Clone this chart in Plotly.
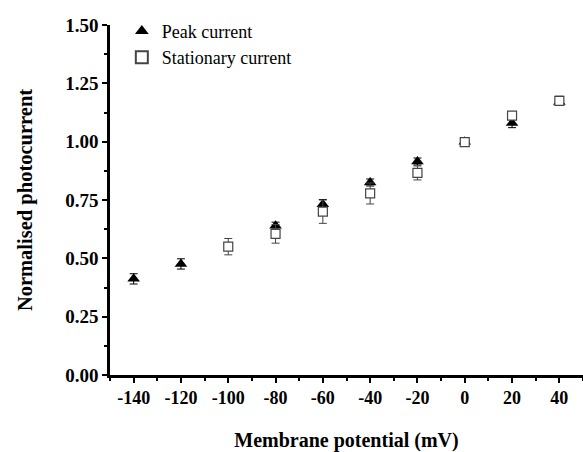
import plotly.graph_objects as go

# Data
peak_x = [-140, -120, -80, -60, -40, -20, 0, 20, 40]
peak_y = [0.412, 0.476, 0.640, 0.732, 0.825, 0.915, 1.000, 1.080, 1.170]
peak_err = [0.022, 0.022, 0.015, 0.020, 0.015, 0.015, 0.010, 0.020, 0.015]

stat_x = [-100, -80, -60, -40, -20, 0, 20, 40]
stat_y = [0.550, 0.605, 0.700, 0.778, 0.866, 0.998, 1.112, 1.175]
stat_err = [0.035, 0.040, 0.050, 0.045, 0.030, 0.010, 0.010, 0.020]

x_ticks = [-140, -120, -100, -80, -60, -40, -20, 0, 20, 40]
y_ticks = [0.00, 0.25, 0.50, 0.75, 1.00, 1.25, 1.50]

serif = "Liberation Serif, Times New Roman, serif"

fig = go.Figure()
fig.add_trace(go.Scatter(
    x=peak_x, y=peak_y, mode="markers", name="Peak current",
    marker=dict(symbol="triangle-up", size=11, color="black"),
    error_y=dict(type="data", array=peak_err, color="black", thickness=1, width=4),
))
fig.add_trace(go.Scatter(
    x=stat_x, y=stat_y, mode="markers", name="Stationary current",
    marker=dict(symbol="square", size=9, color="white",
                line=dict(color="#444444", width=1.2)),
    error_y=dict(type="data", array=stat_err, color="#444444", thickness=1, width=4),
))

fig.update_layout(
    width=583, height=452,
    margin=dict(l=110, r=0, t=25, b=75),
    paper_bgcolor="white", plot_bgcolor="white",
    font=dict(family=serif, color="black"),
    showlegend=True,
    legend=dict(x=0.025, y=1.035, xanchor="left", yanchor="top",
                font=dict(family=serif, size=18, color="black"),
                bgcolor="rgba(0,0,0,0)", itemsizing="constant",
                tracegroupgap=0),
)
fig.update_xaxes(
    range=[-150, 50], tickvals=x_ticks, ticktext=[str(v) for v in x_ticks],
    showline=True, linecolor="black", linewidth=2.5,
    ticks="outside", ticklen=5, tickwidth=2, tickcolor="black",
    minor=dict(tickvals=[-150, -130, -110, -90, -70, -50, -30, -10, 10, 30, 50],
               ticks="outside", ticklen=3, tickwidth=1.5, tickcolor="black"),
    showgrid=False, zeroline=False,
    tickfont=dict(family=serif, size=18, color="black", weight="bold"),
    title=dict(text="<b>Membrane potential (mV)</b>", standoff=30,
               font=dict(family=serif, size=20, color="black")),
)
fig.update_yaxes(
    range=[0, 1.5], tickvals=y_ticks, ticktext=[f"{v:.2f}" for v in y_ticks],
    showline=True, linecolor="black", linewidth=2.5,
    ticks="outside", ticklen=5, tickwidth=2, tickcolor="black",
    minor=dict(tickvals=[0.125, 0.375, 0.625, 0.875, 1.125, 1.375],
               ticks="outside", ticklen=3, tickwidth=1.5, tickcolor="black"),
    showgrid=False, zeroline=False,
    tickfont=dict(family=serif, size=19, color="black", weight="bold"),
    title=dict(text="<b>Normalised photocurrent</b>", standoff=28,
               font=dict(family=serif, size=20.5, color="black")),
)

fig.write_html("out.html")
